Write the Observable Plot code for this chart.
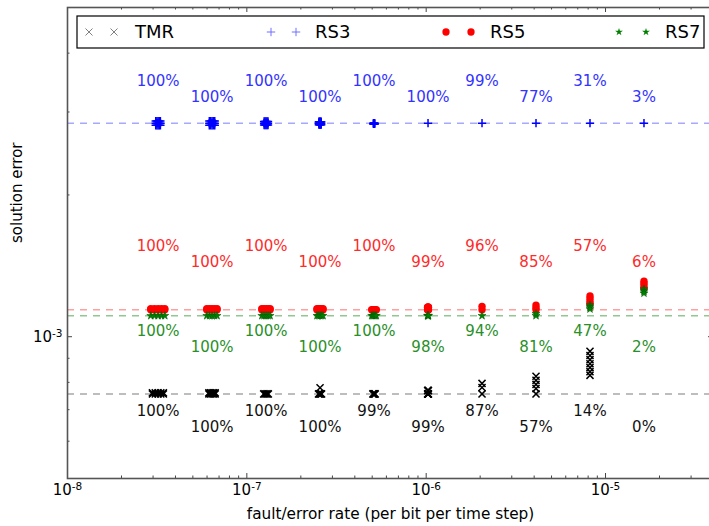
<!DOCTYPE html>
<html><head><meta charset="utf-8">
<script src="https://cdn.jsdelivr.net/npm/d3@7"></script>
<script src="https://cdn.jsdelivr.net/npm/@observablehq/plot@0.6"></script>
<style>
html,body{margin:0;padding:0;background:#fff;overflow:hidden;width:709px;height:526px}
#wrap{position:relative;width:714px;height:526px}
</style></head><body><div id="wrap"></div>
<script>
// ---- data ----
const rates = [3.2e-8, 6.4e-8, 1.28e-7, 2.56e-7, 5.12e-7, 1.024e-6, 2.048e-6, 4.096e-6, 8.192e-6, 1.6384e-5];
const seriesNames = ["TMR", "RS3", "RS5", "RS7"];
const tmrBase = 7.56e-4, rs3Base = 2.84e-3, rs5Base = 1.141e-3, rs7Base = 1.108e-3;
const tmrPct = [100, 100, 100, 100, 99, 99, 87, 57, 14, 0];
const rs3Pct = [100, 100, 100, 100, 100, 100, 99, 77, 31, 3];
const rs5Pct = [100, 100, 100, 100, 100, 99, 96, 85, 57, 6];
const rs7Pct = [100, 100, 100, 100, 100, 98, 94, 81, 47, 2];
// "B" = runs landing on the series' reference error; numbers = observed error of other runs
const tmrErr = [["B", 7.6e-4], ["B", 7.6e-4], ["B"], ["B", 7.79e-4], ["B"], ["B", 7.69e-4], ["B", 7.96e-4, 7.8e-4],
  ["B", 8.24e-4, 8.08e-4, 7.92e-4, 7.76e-4], [9.31e-4, 9.12e-4, 8.94e-4, 8.76e-4, 8.6e-4, 8.43e-4, 8.28e-4], []];
const rs3Err = [["B", 2.81e-3, 2.87e-3], ["B", 2.81e-3, 2.87e-3], ["B", 2.815e-3, 2.865e-3], ["B", 2.82e-3, 2.86e-3],
  ["B", 2.83e-3], ["B"], ["B"], ["B"], ["B"], ["B"]];
const rs5Err = [["B", 1.147e-3], ["B", 1.147e-3], ["B", 1.147e-3], ["B", 1.147e-3], ["B"], ["B", 1.155e-3], ["B", 1.16e-3],
  ["B", 1.167e-3, 1.152e-3], [1.22e-3, 1.205e-3, 1.19e-3, 1.175e-3], [1.312e-3, 1.297e-3, 1.283e-3, 1.268e-3]];
const rs7Err = [["B"], ["B"], ["B"], ["B"], ["B"], ["B"], ["B"], ["B", 1.119e-3],
  [1.167e-3, 1.156e-3, 1.145e-3], [1.262e-3, 1.25e-3, 1.237e-3]];
// horizontal half-width (fraction of rate) of the clump of runs at each rate
const clumpSpread = [0.09, 0.066, 0.053, 0.039, 0.03, 0.006, 0, 0, 0, 0];
const tmrSpread = [0.07, 0.04, 0.03, 0.02, 0.015, 0.005, 0, 0, 0, 0];
const rs3Spread = [0.03, 0.035, 0.025, 0.015, 0.008, 0, 0, 0, 0, 0];
const xMajor = [1e-8, 1e-7, 1e-6, 1e-5];
const xMinor = [1e-8, 1e-7, 1e-6, 1e-5].flatMap(d => [2, 3, 4, 5, 6, 7, 8, 9].map(k => k * d)).filter(v => v < 4e-5);
const yMajor = [1e-3];
const yMinor = [6e-4, 7e-4, 8e-4, 9e-4, 2e-3, 3e-3, 4e-3];

function points(errs, base, spread) {
  const out = [];
  errs.forEach((list, i) => {
    const s = spread[i];
    list.forEach(e => {
      const y = e === "B" ? base : e;
      if (s > 0 && (e === "B" || Math.abs(Math.log10(e / base)) < 0.01)) {
        [-1, -0.5, 0, 0.5, 1].forEach(f => out.push({x: rates[i] * (1 + f * s), y}));
      } else out.push({x: rates[i], y});
    });
  });
  return out;
}
const tmrPts = points(tmrErr, tmrBase, tmrSpread), rs3Pts = points(rs3Err, rs3Base, rs3Spread),
      rs5Pts = points(rs5Err, rs5Base, clumpSpread), rs7Pts = points(rs7Err, rs7Base, clumpSpread);

function pctLabels(pcts, base, color, dyEven, dyOdd) {
  const rows = rates.map((r, i) => ({x: r, pct: pcts[i], i}));
  const opts = {x: "x", y: () => base, text: d => d.pct + "%", fill: color, fontSize: 15};
  return [
    Plot.text(rows.filter(d => d.i % 2 === 0), {...opts, dy: dyEven}),
    Plot.text(rows.filter(d => d.i % 2 === 1), {...opts, dy: dyOdd})
  ];
}

const FW = 646, FH = 471;
const fmt = d => "10^" + Math.round(Math.log10(d));
const chart = Plot.plot({
  width: 714, height: 526,
  marginLeft: 67, marginRight: 1, marginTop: 7, marginBottom: 48,
  x: {type: "log", domain: [1e-8, 4e-5], label: null},
  y: {type: "log", domain: [5e-4, 5e-3], label: null},
  style: {fontFamily: "DejaVu Sans", fontSize: "12px", background: "white", color: "black"},
  marks: [
    Plot.ruleY([tmrBase], {stroke: "#a8a8a8", strokeWidth: 1.5, strokeDasharray: "7,6"}),
    Plot.ruleY([rs3Base], {stroke: "#a8a8ff", strokeWidth: 1.5, strokeDasharray: "7,6"}),
    Plot.ruleY([rs5Base], {stroke: "#ffa0a0", strokeWidth: 1.5, strokeDasharray: "7,6"}),
    Plot.ruleY([rs7Base], {stroke: "#90c890", strokeWidth: 1.5, strokeDasharray: "7,6"}),
    Plot.dot(tmrPts, {x: "x", y: "y", symbol: "times", r: 3.3, stroke: "black", strokeWidth: 1.5}),
    Plot.dot(rs3Pts, {x: "x", y: "y", symbol: "plus", r: 2.8, stroke: "blue", strokeWidth: 1.5}),
    Plot.dot(rs5Pts, {x: "x", y: "y", symbol: "circle", r: 3.7, fill: "red", stroke: "none"}),
    Plot.dot(rs7Pts, {x: "x", y: "y", symbol: "star", r: 2.5, fill: "green", stroke: "#006000", strokeWidth: 0.6}),
    ...pctLabels(rs3Pct, rs3Base, "#3333ff", -42, -26),
    ...pctLabels(rs5Pct, rs5Base, "#ff2a2a", -64, -48),
    ...pctLabels(rs7Pct, rs7Base, "#2a8f2a", 15, 31),
    ...pctLabels(tmrPct, tmrBase, "#111", 17, 33),
    // ticks, inward on all four sides
    Plot.ruleX(xMajor, {stroke: "#444", insetTop: FH - 5}),
    Plot.ruleX(xMinor, {stroke: "#444", insetTop: FH - 2.5}),
    Plot.ruleX(xMajor, {stroke: "#444", insetBottom: FH - 5}),
    Plot.ruleX(xMinor, {stroke: "#444", insetBottom: FH - 2.5}),
    Plot.ruleY(yMajor, {stroke: "#444", insetRight: FW - 5}),
    Plot.ruleY(yMinor, {stroke: "#444", insetRight: FW - 2.5}),
    Plot.ruleY(yMajor, {stroke: "#444", insetLeft: FW - 5}),
    Plot.ruleY(yMinor, {stroke: "#444", insetLeft: FW - 2.5}),
    Plot.axisX(xMajor, {anchor: "bottom", tickSize: 0, tickPadding: 6, tickFormat: fmt, fontSize: 15}),
    Plot.axisY(yMajor, {anchor: "left", tickSize: 0, tickPadding: 5, tickFormat: fmt, fontSize: 15}),
    Plot.text(["fault/error rate (per bit per time step)"], {frameAnchor: "bottom", dy: 40, fontSize: 15.3}),
    Plot.text(["solution error"], {frameAnchor: "left", rotate: -90, dx: -50, fontSize: 15}),
    Plot.frame({stroke: "#555", strokeWidth: 1.6})
  ]
});
document.getElementById("wrap").appendChild(chart);

// superscript exponents in tick labels
d3.select(chart).selectAll('g[aria-label="x-axis tick label"] text, g[aria-label="y-axis tick label"] text').each(function () {
  const t = this.textContent;
  if (!t.includes("^")) return;
  const [b, e] = t.split("^");
  const sel = d3.select(this);
  sel.text(null);
  sel.append("tspan").text(b);
  sel.append("tspan").attr("dy", "-0.45em").attr("font-size", "70%").text(e);
});

// legend (inside the frame, top)
const legendItems = [
  {name: seriesNames[0], symbol: d3.symbolTimes, stroke: "#808080", fill: "none", size: 34, m: [13, 38], t: 59},
  {name: seriesNames[1], symbol: d3.symbolPlus, stroke: "#7070ff", fill: "none", size: 25, m: [195, 220], t: 239},
  {name: seriesNames[2], symbol: d3.symbolCircle, stroke: "none", fill: "red", size: 42, m: [370, 395], t: 414},
  {name: seriesNames[3], symbol: d3.symbolStar, stroke: "none", fill: "green", size: 19, m: [543, 570], t: 589}
];
const leg = d3.select("#wrap").append("svg")
  .style("position", "absolute").style("left", "76px").style("top", "15px")
  .attr("width", 630).attr("height", 34);
leg.append("rect").attr("x", 1).attr("y", 1).attr("width", 627).attr("height", 32)
  .attr("fill", "white").attr("stroke", "black").attr("stroke-width", 1.2);
legendItems.forEach(it => {
  it.m.forEach(mx => {
    leg.append("path").attr("d", d3.symbol(it.symbol, it.size)())
      .attr("transform", `translate(${mx},17)`)
      .attr("fill", it.fill).attr("stroke", it.stroke).attr("stroke-width", 1);
  });
  leg.append("text").attr("x", it.t).attr("y", 17).attr("dy", "0.36em")
    .attr("font-family", "DejaVu Sans").attr("font-size", 18).text(it.name);
});
</script>
</body></html>
